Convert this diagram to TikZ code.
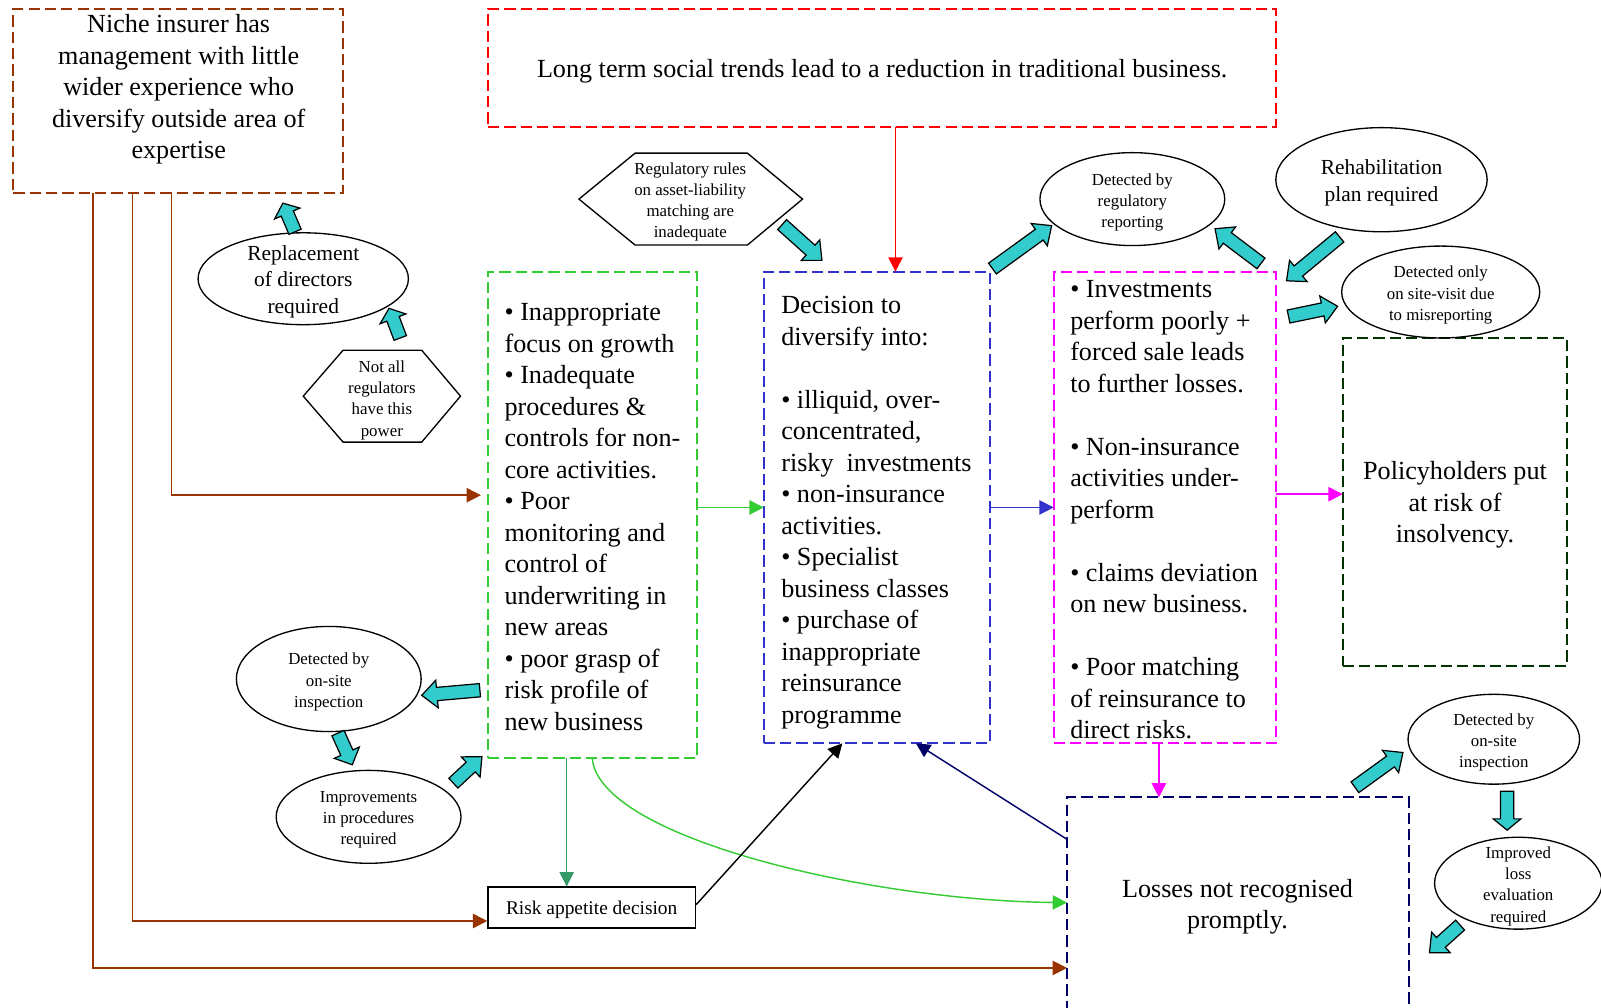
\documentclass[tikz,border=0pt]{standalone}
\usepackage{fontspec}
\setmainfont{Liberation Serif}
\usetikzlibrary{arrows.meta,shapes.geometric,calc}
\definecolor{cbrown}{HTML}{993300}
\definecolor{cred}{HTML}{FF0000}
\definecolor{cgreen}{HTML}{33CC33}
\definecolor{cblue}{HTML}{3333CC}
\definecolor{cpink}{HTML}{FF00FF}
\definecolor{cdkgreen}{HTML}{003300}
\definecolor{cnavy}{HTML}{000066}
\definecolor{ccyan}{HTML}{33CCCC}
\definecolor{cseagreen}{HTML}{339966}
\newcommand\barrow[3][15]{%
  \path (#2); \pgfgetlastxy{\bax}{\bay}%
  \path (#3); \pgfgetlastxy{\bbx}{\bby}%
  \pgfmathsetmacro\baang{atan2((\bby)-(\bay),(\bbx)-(\bax))}%
  \pgfmathsetmacro\balen{veclen((\bbx)-(\bax),(\bby)-(\bay))}%
  \pgfmathsetmacro\babase{\balen-#1}%
  \draw[barr, shift={(#2)}, rotate=\baang] (0pt,-6.5pt) -- (\babase pt,-6.5pt) -- (\babase pt,-13.5pt) -- (\balen pt,0pt) -- (\babase pt,13.5pt) -- (\babase pt,6.5pt) -- (0pt,6.5pt) -- cycle;%
}
\begin{document}
\begin{tikzpicture}[x=1pt,y=-1pt,
  dbox/.style={draw, dash pattern=on 11pt off 5pt, line width=1.9pt, inner sep=0, outer sep=0},
  big/.style={font=\fontsize{25.6}{30.85}\selectfont, inner sep=0},
  mid/.style={font=\fontsize{21}{26}\selectfont, inner sep=0, align=center, yshift=-3pt},
  sml/.style={font=\fontsize{16.5}{20.7}\selectfont, inner sep=0, align=center, yshift=-3pt},
  ell/.style={draw, ellipse, line width=1.3pt, inner sep=0},
  hexa/.style={draw, line width=1.3pt, line join=miter},
  barr/.style={draw=black, fill=ccyan, line width=1.2pt, line join=miter},
  conn/.style={line width=1.4pt, -{Triangle[length=14pt,width=14pt]}},
]
\useasboundingbox (0,0) rectangle (1568,987);

% ---- boxes
\node[dbox, draw=cbrown, minimum width=323, minimum height=180] (nb) at (174.5,99) {};
\node[big, align=center] (nbt) at (175,87.5) {Niche insurer has\\management with little\\wider experience who\\diversify outside area of\\expertise};

\node[dbox, draw=cred, minimum width=772, minimum height=115] (rb) at (864,66.5) {};
\node[big] (rbt) at (864,69.5) {Long term social trends lead to a reduction in traditional business.};

\node[dbox, draw=cgreen, minimum width=205, minimum height=476] (gb) at (580.5,504) {};
\node[big, align=left, anchor=west] (gbt) at ([xshift=16pt,yshift=-2.5pt]gb.west) {• Inappropriate\\focus on growth\\• Inadequate\\procedures \&\\controls for non-\\core activities.\\• Poor\\monitoring and\\control of\\underwriting in\\new areas\\• poor grasp of\\risk profile of\\new business};

\node[dbox, draw=cblue, minimum width=222, minimum height=462] (bb) at (859,497) {};
\node[big, align=left, anchor=west] (bbt) at ([xshift=17pt,yshift=-5pt]bb.west) {Decision to\\diversify into:\\\mbox{}\\• illiquid, over-\\concentrated,\\risky\ \ investments\\• non-insurance\\activities.\\• Specialist\\business classes\\• purchase of\\inappropriate\\reinsurance\\programme};

\node[dbox, draw=cpink, minimum width=218, minimum height=462] (pb) at (1141,497) {};
\node[big, align=left, anchor=west] (pbt) at ([xshift=16pt,yshift=-2.5pt]pb.west) {• Investments\\perform poorly +\\forced sale leads\\to further losses.\\\mbox{}\\• Non-insurance\\activities under-\\perform\\\mbox{}\\• claims deviation\\on new business.\\\mbox{}\\• Poor matching\\of reinsurance to\\direct risks.};

\node[dbox, draw=cdkgreen, minimum width=220, minimum height=321] (hb) at (1425,491.5) {};
\node[big, align=center] (hbt) at (1425,494.5) {Policyholders put\\at risk of\\insolvency.};

\node[dbox, draw=cnavy, minimum width=335, minimum height=219] (lb) at (1212.5,890.5) {};
\node[big, align=center] (lbt) at (1212,888) {Losses not recognised\\promptly.};

\node[draw, line width=1.6pt, minimum width=203, minimum height=40, inner sep=0] (ra) at (579.5,889) {};
\node[inner sep=0, font=\fontsize{19}{23}\selectfont] (rat) at (579.5,891) {Risk appetite decision};

% ---- ellipses
\node[ell, minimum width=206, minimum height=90] (rep) at (297,273) {};
\node[mid] (rept) at (rep.center) {Replacement\\of directors\\required};
\node[ell, minimum width=181, minimum height=91] (dreg) at (1109,195) {};
\node[sml] (dregt) at (dreg.center) {Detected by\\regulatory\\reporting};
\node[ell, minimum width=207, minimum height=102] (reh) at (1353,176) {};
\node[mid] (reht) at (reh.center) {Rehabilitation\\plan required};
\node[ell, minimum width=194, minimum height=90] (donly) at (1411,286) {};
\node[sml] (donlyt) at (donly.center) {Detected only\\on site-visit due\\to misreporting};
\node[ell, minimum width=181, minimum height=103] (dos) at (322,665) {};
\node[sml] (dost) at (dos.center) {Detected by\\on-site\\inspection};
\node[ell, minimum width=181, minimum height=91] (imp) at (361,800) {};
\node[sml] (impt) at (imp.center) {Improvements\\in procedures\\required};
\node[ell, minimum width=168, minimum height=88] (dos2) at (1463,724) {};
\node[sml] (dos2t) at (dos2.center) {Detected by\\on-site\\inspection};
\node[ell, minimum width=164, minimum height=90] (iml) at (1487,865) {};
\node[sml] (imlt) at (iml.center) {Improved\\loss\\evaluation\\required};

% ---- hexagons
\node[sml] (rr) at (676,195) {Regulatory rules\\on asset-liability\\matching are\\inadequate};
\draw[hexa] (567,195) -- (622,150) -- (732,150) -- (786,195) -- (732,240) -- (622,240) -- cycle;
\node[sml] (nar) at (374,389) {Not all\\regulators\\have this\\power};
\draw[hexa] (297,388) -- (336,343) -- (413,343) -- (451,388) -- (413,433) -- (336,433) -- cycle;

% ---- line connectors
\draw[conn, cred] (877,0 |- rb.south) -- (877,0 |- bb.north);
\draw[conn, cgreen] (gb.east |- 0,497) -- (bb.west |- 0,497);
\draw[conn, cblue] (bb.east |- 0,497) -- (pb.west |- 0,497);
\draw[conn, cpink] (pb.east |- 0,484) -- (hb.west |- 0,484);
\draw[conn, cpink] (1135,0 |- pb.south) -- (1135,0 |- lb.north);
\draw[conn, cbrown, shorten >=7pt] (168,0 |- nb.south) |- (gb.west |- 0,485);
\draw[conn, cbrown] (130,0 |- nb.south) |- (ra.west |- 0,902);
\draw[conn, cbrown] (91,0 |- nb.south) |- (lb.west |- 0,948);
\draw[conn, cseagreen] (555,0 |- gb.south) -- (555,0 |- ra.north);
\draw[conn, cgreen] (580,0 |- gb.south) .. controls (585,820) and (850,882) .. (lb.west |- 0,884);
\draw[conn, black] (ra.east |- 0,886) -- (825,0 |- bb.south);
\draw[conn, cnavy] (lb.west |- 0,822) -- (897,0 |- bb.south);

% ---- block arrows
\coordinate (a1t) at (289,227); \coordinate (a1h) at (277,199);
\coordinate (a2t) at (392,331); \coordinate (a2h) at (381,302);
\coordinate (a3t) at (766,220); \coordinate (a3h) at (805,255);
\coordinate (a4t) at (972,263); \coordinate (a4h) at (1030,221);
\coordinate (a5t) at (1235,258); \coordinate (a5h) at (1190,224);
\coordinate (a6t) at (1312,232); \coordinate (a6h) at (1260,275);
\coordinate (a7t) at (1262,310); \coordinate (a7h) at (1310,300);
\coordinate (a8t) at (470,676); \coordinate (a8h) at (413,681);
\coordinate (a9t) at (331,718); \coordinate (a9h) at (345,749);
\coordinate (a10t) at (444,767); \coordinate (a10h) at (472,741);
\coordinate (a11t) at (1327,771); \coordinate (a11h) at (1374,737);
\coordinate (a12t) at (1476,775); \coordinate (a12h) at (1476,813);
\coordinate (a13t) at (1430,906); \coordinate (a13h) at (1400,933);
\barrow[11]{a1t}{a1h}
\barrow[11]{a2t}{a2h}
\barrow{a3t}{a3h}
\barrow{a4t}{a4h}
\barrow{a5t}{a5h}
\barrow{a6t}{a6h}
\barrow{a7t}{a7h}
\barrow{a8t}{a8h}
\barrow[13]{a9t}{a9h}
\barrow{a10t}{a10h}
\barrow{a11t}{a11h}
\barrow[11]{a12t}{a12h}
\barrow{a13t}{a13h}
\end{tikzpicture}
\end{document}
